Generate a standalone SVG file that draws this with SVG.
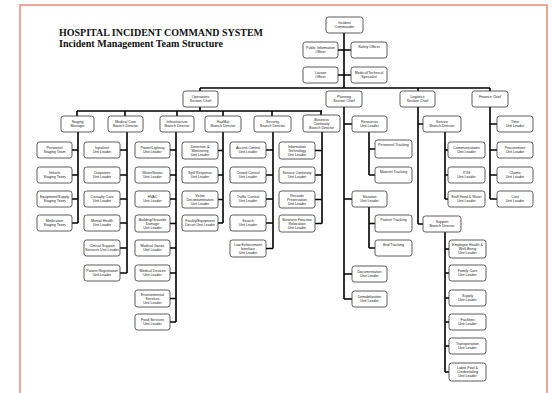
<svg xmlns="http://www.w3.org/2000/svg" width="552" height="393" viewBox="0 0 552 393">
<style>
.b{fill:#fff;stroke:#333;stroke-width:0.8}
.t{font-family:"Liberation Sans",Arial,sans-serif;font-size:3.6px;fill:#222;text-anchor:middle}
.c{fill:none;stroke:#000;stroke-width:1.6}
.h{font-family:"Liberation Serif","Times New Roman",serif;font-weight:bold;font-size:10px;fill:#111}
</style>
<rect width="552" height="393" fill="#fff"/>
<path d="M20 393V5H547V393" fill="none" stroke="#f2a39b" stroke-width="2"/>
<text class="h" x="59" y="36" textLength="204" lengthAdjust="spacingAndGlyphs">HOSPITAL INCIDENT COMMAND SYSTEM</text>
<text class="h" x="59" y="47" textLength="164" lengthAdjust="spacingAndGlyphs">Incident Management Team Structure</text>
<g id="connectors" class="c">
<path d="M344 33V88M338 50H351M338 75H351M200 88H490M200 88V91M418 88V91M490 88V91"/>
<path d="M200 107V111M77 111H322M77 111V116M125 111V116M177 111V116M223 111V116M272 111V116M321 111V115"/>
<path d="M78 132V223M72 150H78M72 175H78M72 199H78M72 223H78"/>
<path d="M127 132V273M120 150H127M120 175H127M120 199H127M120 223H127M120 248H127M120 273H127"/>
<path d="M176 132V322M170 150H176M170 175H176M170 199H176M170 223.5H176M170 248H176M170 273H176M170 298.5H176M170 322H176"/>
<path d="M223 132V223M218 150.5H223M218 175H223M218 199.5H223M218 223H223"/>
<path d="M273 132V248.5M266 150H273M266 175H273M266 199H273M266 223H273M266 248.5H273"/>
<path d="M322 132V223.5M315 150.5H322M315 175H322M315 199.5H322M315 223.5H322"/>
<path d="M344 107V299M344 124H352M344 199H352M344 274H352M344 299H352"/>
<path d="M369 132V175M369 149H375M369 175H375M369 207V248M369 223.5H375M369 248H375"/>
<path d="M418 107V224M418 124H423M418 224H423"/>
<path d="M445 132V199M445 150H448M445 175H448M445 199H448"/>
<path d="M445 232V372M445 249H449M445 273H449M445 298H449M445 322H449M445 346H449M445 372H449"/>
<path d="M490 107V199M490 124H497M490 150H497M490 175H497M490 199H497"/>
</g>
<g id="ic"><rect class="b" x="326" y="17" width="37" height="16" rx="2.5"/><text class="t" x="344.5" y="23.8">Incident</text><text class="t" x="344.5" y="28">Commander</text></g>
<g id="pio"><rect class="b" x="303" y="42" width="35" height="16" rx="2.5"/><text class="t" x="320.5" y="48.8">Public Information</text><text class="t" x="320.5" y="53">Officer</text></g>
<g id="safety"><rect class="b" x="351" y="42" width="36" height="16" rx="2.5"/><text class="t" x="369" y="48">Safety Officer</text></g>
<g id="liaison"><rect class="b" x="303" y="67" width="35" height="16" rx="2.5"/><text class="t" x="320.5" y="73.8">Liaison</text><text class="t" x="320.5" y="78">Officer</text></g>
<g id="medtech"><rect class="b" x="351" y="67" width="36" height="16" rx="2.5"/><text class="t" x="369" y="73.8">Medical/Technical</text><text class="t" x="369" y="78">Specialist</text></g>
<g id="ops"><rect class="b" x="183" y="91" width="35" height="16" rx="2.5"/><text class="t" x="200.5" y="97.8">Operations</text><text class="t" x="200.5" y="102">Section Chief</text></g>
<g id="plan"><rect class="b" x="326" y="91" width="36" height="16" rx="2.5"/><text class="t" x="344" y="97.8">Planning</text><text class="t" x="344" y="102">Section Chief</text></g>
<g id="log"><rect class="b" x="400" y="91" width="35" height="16" rx="2.5"/><text class="t" x="417.5" y="97.8">Logistics</text><text class="t" x="417.5" y="102">Section Chief</text></g>
<g id="fin"><rect class="b" x="472" y="91" width="36" height="16" rx="2.5"/><text class="t" x="490" y="97.5">Finance Chief</text></g>
<g id="staging"><rect class="b" x="61" y="116" width="33" height="16" rx="2.5"/><text class="t" x="77.5" y="122.8">Staging</text><text class="t" x="77.5" y="127">Manager</text></g>
<g id="medcare"><rect class="b" x="108" y="116" width="35" height="16" rx="2.5"/><text class="t" x="125.5" y="122.8">Medical Care</text><text class="t" x="125.5" y="127">Branch Director</text></g>
<g id="infra"><rect class="b" x="160" y="116" width="34" height="16" rx="2.5"/><text class="t" x="177" y="122.8">Infrastructure</text><text class="t" x="177" y="127">Branch Director</text></g>
<g id="hazmat"><rect class="b" x="205" y="116" width="36" height="16" rx="2.5"/><text class="t" x="223" y="122.8">HazMat</text><text class="t" x="223" y="127">Branch Director</text></g>
<g id="security"><rect class="b" x="254" y="116" width="37" height="16" rx="2.5"/><text class="t" x="272.5" y="122.8">Security</text><text class="t" x="272.5" y="127">Branch Director</text></g>
<g id="buscont"><rect class="b" x="303" y="115" width="37" height="17" rx="2.5"/><text class="t" x="321.5" y="120.5">Business</text><text class="t" x="321.5" y="124.5">Continuity</text><text class="t" x="321.5" y="128.5">Branch Director</text></g>
<g id="st1"><rect class="b" x="37" y="142" width="35" height="16" rx="2.5"/><text class="t" x="54.5" y="148.8">Personnel</text><text class="t" x="54.5" y="153">Staging Team</text></g>
<g id="st2"><rect class="b" x="37" y="167" width="35" height="16" rx="2.5"/><text class="t" x="54.5" y="173.8">Vehicle</text><text class="t" x="54.5" y="178">Staging Team</text></g>
<g id="st3"><rect class="b" x="37" y="191" width="35" height="16" rx="2.5"/><text class="t" x="54.5" y="197.8">Equipment/Supply</text><text class="t" x="54.5" y="202">Staging Team</text></g>
<g id="st4"><rect class="b" x="37" y="215" width="35" height="16" rx="2.5"/><text class="t" x="54.5" y="221.8">Medication</text><text class="t" x="54.5" y="226">Staging Team</text></g>
<g id="mc1"><rect class="b" x="84" y="142" width="36" height="16" rx="2.5"/><text class="t" x="102" y="148.8">Inpatient</text><text class="t" x="102" y="153">Unit Leader</text></g>
<g id="mc2"><rect class="b" x="84" y="167" width="36" height="16" rx="2.5"/><text class="t" x="102" y="173.8">Outpatient</text><text class="t" x="102" y="178">Unit Leader</text></g>
<g id="mc3"><rect class="b" x="84" y="191" width="36" height="16" rx="2.5"/><text class="t" x="102" y="197.8">Casualty Care</text><text class="t" x="102" y="202">Unit Leader</text></g>
<g id="mc4"><rect class="b" x="84" y="215" width="36" height="16" rx="2.5"/><text class="t" x="102" y="221.8">Mental Health</text><text class="t" x="102" y="226">Unit Leader</text></g>
<g id="mc5"><rect class="b" x="84" y="240" width="36" height="16" rx="2.5"/><text class="t" x="102" y="246.8">Clinical Support</text><text class="t" x="102" y="251">Services Unit Leader</text></g>
<g id="mc6"><rect class="b" x="84" y="265" width="36" height="16" rx="2.5"/><text class="t" x="102" y="271.8">Patient Registration</text><text class="t" x="102" y="276">Unit Leader</text></g>
<g id="in1"><rect class="b" x="135" y="142" width="35" height="16" rx="2.5"/><text class="t" x="152.5" y="148.8">Power/Lighting</text><text class="t" x="152.5" y="153">Unit Leader</text></g>
<g id="in2"><rect class="b" x="135" y="167" width="35" height="16" rx="2.5"/><text class="t" x="152.5" y="173.8">Water/Sewer</text><text class="t" x="152.5" y="178">Unit Leader</text></g>
<g id="in3"><rect class="b" x="135" y="191" width="35" height="16" rx="2.5"/><text class="t" x="152.5" y="197.8">HVAC</text><text class="t" x="152.5" y="202">Unit Leader</text></g>
<g id="in4"><rect class="b" x="135" y="215" width="35" height="17" rx="2.5"/><text class="t" x="152.5" y="220.5">Building/Grounds</text><text class="t" x="152.5" y="224.5">Damage</text><text class="t" x="152.5" y="228.5">Unit Leader</text></g>
<g id="in5"><rect class="b" x="135" y="240" width="35" height="16" rx="2.5"/><text class="t" x="152.5" y="246.8">Medical Gases</text><text class="t" x="152.5" y="251">Unit Leader</text></g>
<g id="in6"><rect class="b" x="135" y="265" width="35" height="16" rx="2.5"/><text class="t" x="152.5" y="271.8">Medical Devices</text><text class="t" x="152.5" y="276">Unit Leader</text></g>
<g id="in7"><rect class="b" x="135" y="290" width="35" height="17" rx="2.5"/><text class="t" x="152.5" y="295.5">Environmental</text><text class="t" x="152.5" y="299.5">Services</text><text class="t" x="152.5" y="303.5">Unit Leader</text></g>
<g id="in8"><rect class="b" x="135" y="314" width="35" height="16" rx="2.5"/><text class="t" x="152.5" y="320.8">Food Services</text><text class="t" x="152.5" y="325">Unit Leader</text></g>
<g id="hz1"><rect class="b" x="182" y="142" width="36" height="17" rx="2.5"/><text class="t" x="200" y="147.5">Detection &amp;</text><text class="t" x="200" y="151.5">Monitoring</text><text class="t" x="200" y="155.5">Unit Leader</text></g>
<g id="hz2"><rect class="b" x="182" y="167" width="36" height="16" rx="2.5"/><text class="t" x="200" y="173.8">Spill Response</text><text class="t" x="200" y="178">Unit Leader</text></g>
<g id="hz3"><rect class="b" x="182" y="191" width="36" height="17" rx="2.5"/><text class="t" x="200" y="196.5">Victim</text><text class="t" x="200" y="200.5">Decontamination</text><text class="t" x="200" y="204.5">Unit Leader</text></g>
<g id="hz4"><rect class="b" x="182" y="215" width="36" height="16" rx="2.5"/><text class="t" x="200" y="221.8">Facility/Equipment</text><text class="t" x="200" y="226">Decon Unit Leader</text></g>
<g id="se1"><rect class="b" x="230" y="142" width="36" height="16" rx="2.5"/><text class="t" x="248" y="148.8">Access Control</text><text class="t" x="248" y="153">Unit Leader</text></g>
<g id="se2"><rect class="b" x="230" y="167" width="36" height="16" rx="2.5"/><text class="t" x="248" y="173.8">Crowd Control</text><text class="t" x="248" y="178">Unit Leader</text></g>
<g id="se3"><rect class="b" x="230" y="191" width="36" height="16" rx="2.5"/><text class="t" x="248" y="197.8">Traffic Control</text><text class="t" x="248" y="202">Unit Leader</text></g>
<g id="se4"><rect class="b" x="230" y="215" width="36" height="16" rx="2.5"/><text class="t" x="248" y="221.8">Search</text><text class="t" x="248" y="226">Unit Leader</text></g>
<g id="se5"><rect class="b" x="230" y="240" width="36" height="17" rx="2.5"/><text class="t" x="248" y="245.5">Law Enforcement</text><text class="t" x="248" y="249.5">Interface</text><text class="t" x="248" y="253.5">Unit Leader</text></g>
<g id="bc1"><rect class="b" x="279" y="142" width="36" height="17" rx="2.5"/><text class="t" x="297" y="147.5">Information</text><text class="t" x="297" y="151.5">Technology</text><text class="t" x="297" y="155.5">Unit Leader</text></g>
<g id="bc2"><rect class="b" x="279" y="167" width="36" height="16" rx="2.5"/><text class="t" x="297" y="173.8">Service Continuity</text><text class="t" x="297" y="178">Unit Leader</text></g>
<g id="bc3"><rect class="b" x="279" y="191" width="36" height="17" rx="2.5"/><text class="t" x="297" y="196.5">Records</text><text class="t" x="297" y="200.5">Preservation</text><text class="t" x="297" y="204.5">Unit Leader</text></g>
<g id="bc4"><rect class="b" x="279" y="215" width="36" height="17" rx="2.5"/><text class="t" x="297" y="220.5">Business Function</text><text class="t" x="297" y="224.5">Relocation</text><text class="t" x="297" y="228.5">Unit Leader</text></g>
<g id="resources"><rect class="b" x="352" y="116" width="35" height="16" rx="2.5"/><text class="t" x="369.5" y="122.8">Resources</text><text class="t" x="369.5" y="127">Unit Leader</text></g>
<g id="perstrack"><rect class="b" x="375" y="140" width="37" height="18" rx="2.5"/><text class="t" x="393.5" y="146">Personnel Tracking</text></g>
<g id="mattrack"><rect class="b" x="375" y="167" width="37" height="16" rx="2.5"/><text class="t" x="393.5" y="173">Materiel Tracking</text></g>
<g id="situation"><rect class="b" x="352" y="191" width="35" height="16" rx="2.5"/><text class="t" x="369.5" y="197.8">Situation</text><text class="t" x="369.5" y="202">Unit Leader</text></g>
<g id="pattrack"><rect class="b" x="375" y="215" width="37" height="17" rx="2.5"/><text class="t" x="393.5" y="221">Patient Tracking</text></g>
<g id="bedtrack"><rect class="b" x="375" y="240" width="37" height="16" rx="2.5"/><text class="t" x="393.5" y="246">Bed Tracking</text></g>
<g id="documentation"><rect class="b" x="352" y="266" width="35" height="16" rx="2.5"/><text class="t" x="369.5" y="272.8">Documentation</text><text class="t" x="369.5" y="277">Unit Leader</text></g>
<g id="demob"><rect class="b" x="352" y="291" width="35" height="16" rx="2.5"/><text class="t" x="369.5" y="297.8">Demobilization</text><text class="t" x="369.5" y="302">Unit Leader</text></g>
<g id="service"><rect class="b" x="423" y="116" width="38" height="16" rx="2.5"/><text class="t" x="442" y="122.8">Service</text><text class="t" x="442" y="127">Branch Director</text></g>
<g id="comm"><rect class="b" x="448" y="142" width="37" height="16" rx="2.5"/><text class="t" x="466.5" y="148.8">Communications</text><text class="t" x="466.5" y="153">Unit Leader</text></g>
<g id="itis"><rect class="b" x="448" y="167" width="37" height="16" rx="2.5"/><text class="t" x="466.5" y="173.8">IT/IS</text><text class="t" x="466.5" y="178">Unit Leader</text></g>
<g id="food"><rect class="b" x="448" y="191" width="37" height="16" rx="2.5"/><text class="t" x="466.5" y="197.8">Staff Food &amp; Water</text><text class="t" x="466.5" y="202">Unit Leader</text></g>
<g id="support"><rect class="b" x="423" y="216" width="38" height="16" rx="2.5"/><text class="t" x="442" y="222.8">Support</text><text class="t" x="442" y="227">Branch Director</text></g>
<g id="su1"><rect class="b" x="449" y="240" width="37" height="18" rx="2.5"/><text class="t" x="467.5" y="246">Employee Health &amp;</text><text class="t" x="467.5" y="250">Well-Being</text><text class="t" x="467.5" y="254">Unit Leader</text></g>
<g id="su2"><rect class="b" x="449" y="265" width="37" height="16" rx="2.5"/><text class="t" x="467.5" y="271.8">Family Care</text><text class="t" x="467.5" y="276">Unit Leader</text></g>
<g id="su3"><rect class="b" x="449" y="290" width="37" height="16" rx="2.5"/><text class="t" x="467.5" y="296.8">Supply</text><text class="t" x="467.5" y="301">Unit Leader</text></g>
<g id="su4"><rect class="b" x="449" y="314" width="37" height="16" rx="2.5"/><text class="t" x="467.5" y="320.8">Facilities</text><text class="t" x="467.5" y="325">Unit Leader</text></g>
<g id="su5"><rect class="b" x="449" y="338" width="37" height="16" rx="2.5"/><text class="t" x="467.5" y="344.8">Transportation</text><text class="t" x="467.5" y="349">Unit Leader</text></g>
<g id="su6"><rect class="b" x="449" y="363" width="37" height="18" rx="2.5"/><text class="t" x="467.5" y="369">Labor Pool &amp;</text><text class="t" x="467.5" y="373">Credentialing</text><text class="t" x="467.5" y="377">Unit Leader</text></g>
<g id="time"><rect class="b" x="497" y="116" width="36" height="16" rx="2.5"/><text class="t" x="515" y="122.8">Time</text><text class="t" x="515" y="127">Unit Leader</text></g>
<g id="procure"><rect class="b" x="497" y="142" width="36" height="16" rx="2.5"/><text class="t" x="515" y="148.8">Procurement</text><text class="t" x="515" y="153">Unit Leader</text></g>
<g id="claims"><rect class="b" x="497" y="167" width="36" height="16" rx="2.5"/><text class="t" x="515" y="173.8">Claims</text><text class="t" x="515" y="178">Unit Leader</text></g>
<g id="cost"><rect class="b" x="497" y="191" width="36" height="16" rx="2.5"/><text class="t" x="515" y="197.8">Cost</text><text class="t" x="515" y="202">Unit Leader</text></g>
</svg>
